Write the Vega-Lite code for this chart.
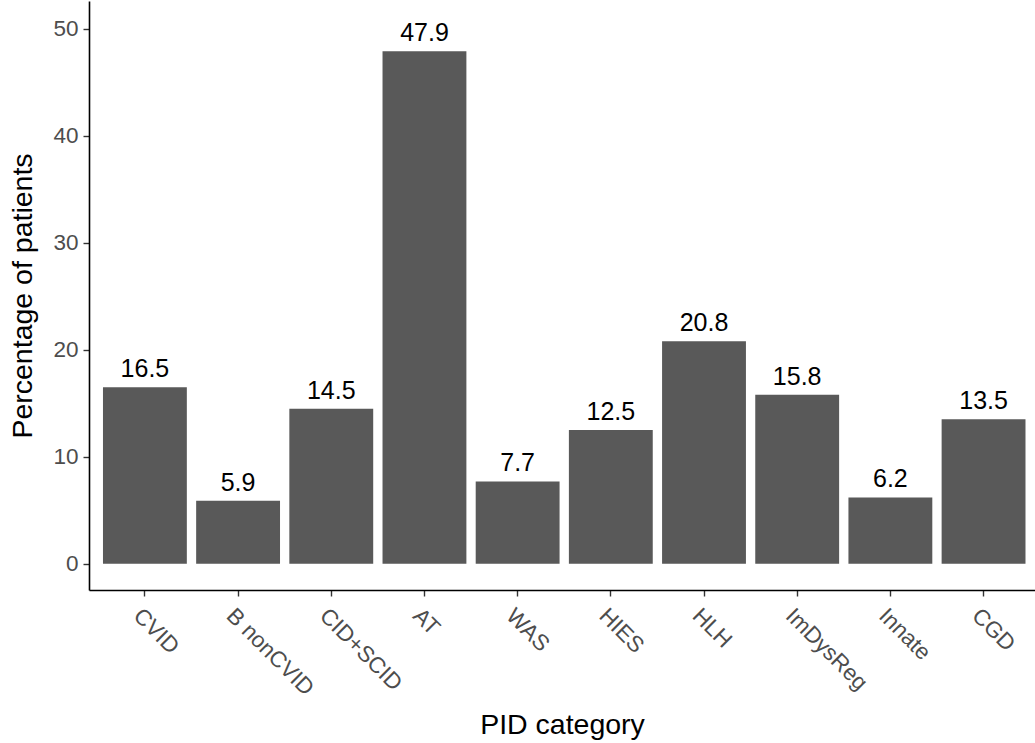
{
  "$schema": "https://vega.github.io/schema/vega-lite/v6.json",
  "width": 946,
  "height": 589,
  "autosize": {"type": "none"},
  "padding": {"left": 89, "top": 1, "right": 0, "bottom": 153},
  "background": "white",
  "config": {
    "font": "Liberation Sans",
    "view": {"stroke": null},
    "axis": {
      "grid": false,
      "domainColor": "black",
      "domainWidth": 1.6,
      "tickColor": "#333333",
      "tickWidth": 1.4,
      "tickSize": 6,
      "labelColor": "#4d4d4d",
      "labelFontSize": 22.5,
      "labelFont": "Liberation Sans",
      "titleFont": "Liberation Sans",
      "titleFontWeight": "normal",
      "titleColor": "black",
      "titleFontSize": 28.5
    }
  },
  "data": {
    "values": [
      {"category": "CVID", "pct": 16.5},
      {"category": "B nonCVID", "pct": 5.9},
      {"category": "CID+SCID", "pct": 14.5},
      {"category": "AT", "pct": 47.9},
      {"category": "WAS", "pct": 7.7},
      {"category": "HIES", "pct": 12.5},
      {"category": "HLH", "pct": 20.8},
      {"category": "ImDysReg", "pct": 15.8},
      {"category": "Innate", "pct": 6.2},
      {"category": "CGD", "pct": 13.5}
    ]
  },
  "encoding": {
    "x": {
      "field": "category",
      "type": "nominal",
      "sort": null,
      "title": "PID category",
      "scale": {"paddingInner": 0.1, "paddingOuter": 0.126, "align": 0.595},
      "axis": {
        "labelAngle": 45,
        "labelAlign": "left",
        "labelBaseline": "top",
        "labelPadding": 8,
        "titlePadding": 11
      }
    }
  },
  "layer": [
    {
      "mark": {"type": "bar", "color": "#595959"},
      "encoding": {
        "y": {
          "field": "pct",
          "type": "quantitative",
          "title": "Percentage of patients",
          "scale": {"domain": [-2.45, 52.6], "nice": false, "zero": false},
          "axis": {"values": [0, 10, 20, 30, 40, 50], "titlePadding": 15, "labelPadding": 5}
        },
        "y2": {"datum": 0}
      }
    },
    {
      "mark": {"type": "text", "fontSize": 25, "color": "black", "baseline": "alphabetic", "dy": -10},
      "encoding": {
        "y": {"field": "pct", "type": "quantitative"},
        "text": {"field": "pct", "type": "quantitative", "format": ".1f"}
      }
    }
  ]
}
